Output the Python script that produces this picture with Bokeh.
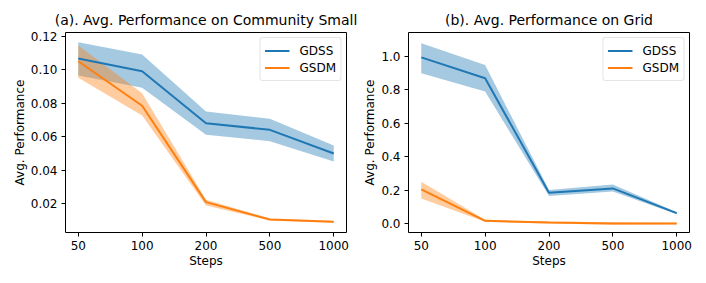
from bokeh.plotting import figure
from bokeh.layouts import row
from bokeh.models import FixedTicker, NumeralTickFormatter, Range1d, Legend, LegendItem, ColumnDataSource
from bokeh.embed import file_html
from bokeh.resources import INLINE

steps = ["50", "100", "200", "500", "1000"]

# (a) Community Small
cs_gdss = [0.1068, 0.0992, 0.0681, 0.0641, 0.0499]
cs_gdss_lo = [0.0967, 0.0893, 0.0611, 0.0573, 0.0451]
cs_gdss_hi = [0.1166, 0.1092, 0.0751, 0.0707, 0.0547]
cs_gsdm = [0.1052, 0.0785, 0.0208, 0.0104, 0.0090]
cs_gsdm_lo = [0.0953, 0.0727, 0.0188, 0.0098, 0.0085]
cs_gsdm_hi = [0.1146, 0.0860, 0.0222, 0.0110, 0.0095]

# (b) Grid
gr_gdss = [0.995, 0.870, 0.184, 0.210, 0.062]
gr_gdss_lo = [0.900, 0.790, 0.165, 0.192, 0.055]
gr_gdss_hi = [1.080, 0.950, 0.200, 0.234, 0.068]
gr_gsdm = [0.204, 0.016, 0.006, 0.000, 0.000]
gr_gsdm_lo = [0.150, 0.010, 0.000, -0.008, -0.005]
gr_gsdm_hi = [0.250, 0.022, 0.012, 0.008, 0.005]

BLUE = "#1f77b4"
ORANGE = "#ff7f0e"
FONT = "DejaVu Sans"


def make(title, g, glo, ghi, s, slo, shi, yr, yticks, fmt, bl, br):
    x = list(range(len(steps)))
    src = ColumnDataSource(dict(x=x, g=g, glo=glo, ghi=ghi, s=s, slo=slo, shi=shi))
    p = figure(frame_width=281, frame_height=200, output_backend="svg", toolbar_location=None,
               x_range=Range1d(-0.2, len(steps) - 0.8), y_range=Range1d(*yr),
               min_border_left=bl, min_border_right=br, min_border_top=32, min_border_bottom=45)
    p.title.text = title
    p.title.align = "center"
    p.title.text_font = FONT
    p.title.text_font_size = "14px"
    p.title.text_font_style = "normal"
    p.title.text_color = "black"
    p.title.offset = 0
    p.title.standoff = 10
    p.varea(x="x", y1="glo", y2="ghi", source=src, fill_color=BLUE, fill_alpha=0.4)
    p.varea(x="x", y1="slo", y2="shi", source=src, fill_color=ORANGE, fill_alpha=0.4)
    r1 = p.line(x="x", y="g", source=src, line_color=BLUE, line_width=2)
    r2 = p.line(x="x", y="s", source=src, line_color=ORANGE, line_width=2)
    p.xaxis.ticker = FixedTicker(ticks=x)
    p.xaxis.major_label_overrides = {i: t for i, t in enumerate(steps)}
    p.yaxis.ticker = FixedTicker(ticks=yticks)
    p.yaxis.formatter = NumeralTickFormatter(format=fmt)
    p.xaxis.axis_label = "Steps"
    p.yaxis.axis_label = "Avg. Performance"
    for ax in (p.xaxis, p.yaxis):
        ax.axis_label_text_font = FONT
        ax.axis_label_text_font_size = "12px"
        ax.axis_label_text_font_style = "normal"
        ax.axis_label_text_color = "black"
        ax.major_label_text_font = FONT
        ax.major_label_text_font_size = "12px"
        ax.major_label_text_color = "black"
        ax.axis_line_color = None
        ax.major_tick_in = 0
        ax.major_tick_out = 4
        ax.major_tick_line_color = "black"
        ax.minor_tick_line_color = None
    p.xaxis.axis_label_standoff = 1
    p.yaxis.axis_label_standoff = 1
    p.xaxis.major_label_standoff = 4
    p.yaxis.major_label_standoff = 4
    p.grid.visible = False
    p.outline_line_color = "black"
    p.outline_line_alpha = 1
    p.outline_line_width = 1
    leg = Legend(items=[LegendItem(label="GDSS", renderers=[r1]), LegendItem(label="GSDM", renderers=[r2])],
                 location="top_right", label_text_font=FONT, label_text_font_size="12px",
                 label_text_color="black",
                 border_line_color="#cccccc", border_line_width=1, border_radius=3,
                 background_fill_alpha=0.8, glyph_width=25, glyph_height=17, label_standoff=10,
                 padding=4, spacing=0, margin=5, label_height=17)
    p.add_layout(leg)
    return p


pa = make("(a). Avg. Performance on Community Small", cs_gdss, cs_gdss_lo, cs_gdss_hi,
          cs_gsdm, cs_gsdm_lo, cs_gsdm_hi, (0.0026, 0.1224), [0.02, 0.04, 0.06, 0.08, 0.10, 0.12],
          "0.00", 65, 14)
pb = make("(b). Avg. Performance on Grid", gr_gdss, gr_gdss_lo, gr_gdss_hi,
          gr_gsdm, gr_gsdm_lo, gr_gsdm_hi, (-0.054, 1.144), [0.0, 0.2, 0.4, 0.6, 0.8, 1.0],
          "0.0", 48, 14)

layout = row(pa, pb)
open("out.html", "w").write(file_html(layout, INLINE))
